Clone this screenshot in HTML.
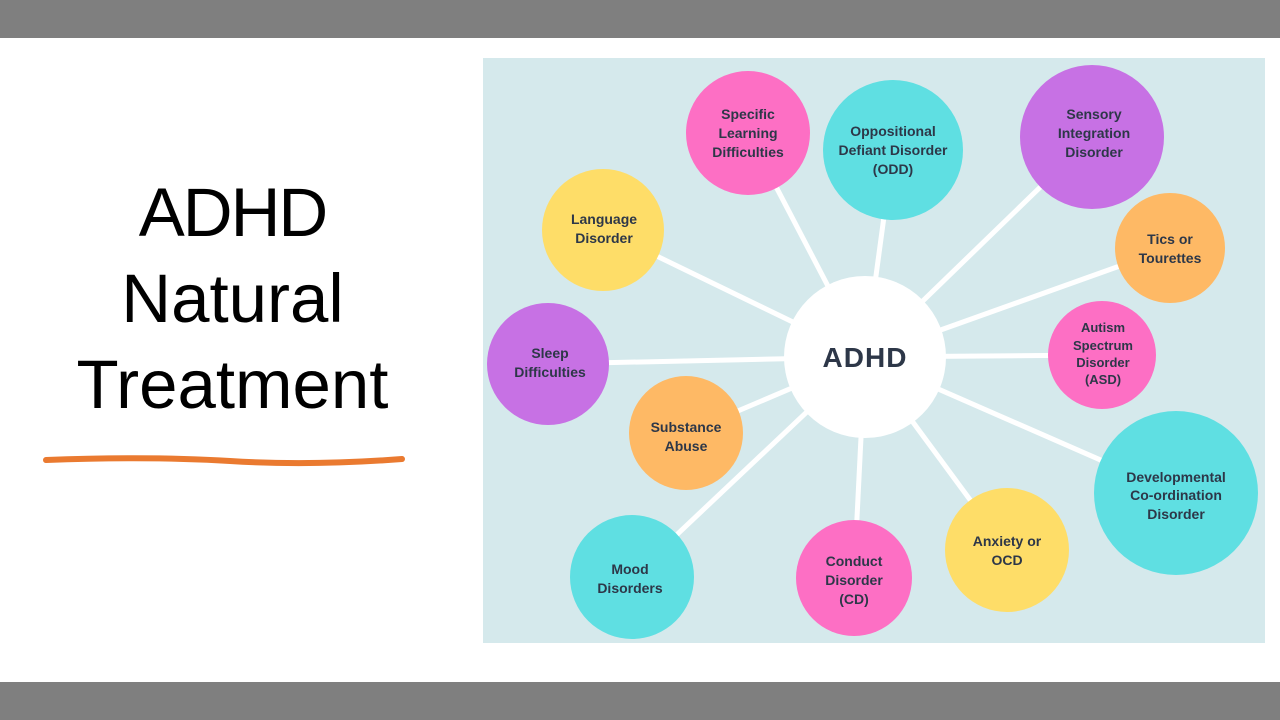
<!DOCTYPE html>
<html><head><meta charset="utf-8"><style>
html,body{margin:0;padding:0}
body{width:1280px;height:720px;position:relative;background:#fff;overflow:hidden;font-family:"Liberation Sans",sans-serif}
.bar{position:absolute;left:0;width:1280px;height:38px;background:#7f7f7f}
.t{position:absolute;left:20px;width:425px;text-align:center;font-size:69px;color:#000;line-height:86px;top:170px}
</style></head><body>
<div class="bar" style="top:0"></div>
<div class="bar" style="top:682px"></div>
<div class="t"><span style="letter-spacing:-2px">ADHD</span><br>Natural<br>Treatment</div>
<svg style="position:absolute;left:0;top:0" width="1280" height="720">
<path d="M46 460 Q150 456 230 461 T402 459" stroke="#ea7a30" stroke-width="6" fill="none" stroke-linecap="round"/>
<rect x="483" y="58" width="782" height="585" fill="#d5e9ec"/>
<g stroke="#fff" stroke-width="5">
<line x1="865" y1="357" x2="748" y2="133"/><line x1="865" y1="357" x2="893" y2="150"/>
<line x1="865" y1="357" x2="1092" y2="137"/><line x1="865" y1="357" x2="603" y2="230"/>
<line x1="865" y1="357" x2="1170" y2="248"/><line x1="865" y1="357" x2="1102" y2="355"/>
<line x1="865" y1="357" x2="548" y2="364"/><line x1="865" y1="357" x2="686" y2="433"/>
<line x1="865" y1="357" x2="1176" y2="493"/><line x1="865" y1="357" x2="1007" y2="550"/>
<line x1="865" y1="357" x2="854" y2="578"/><line x1="865" y1="357" x2="632" y2="577"/>
</g>
<g>
<circle cx="748" cy="133" r="62" fill="#fd6fc4"/>
<circle cx="893" cy="150" r="70" fill="#5fdfe2"/>
<circle cx="1092" cy="137" r="72" fill="#c771e4"/>
<circle cx="603" cy="230" r="61" fill="#fedd68"/>
<circle cx="1170" cy="248" r="55" fill="#feb965"/>
<circle cx="1102" cy="355" r="54" fill="#fd6fc4"/>
<circle cx="548" cy="364" r="61" fill="#c771e4"/>
<circle cx="686" cy="433" r="57" fill="#feb965"/>
<circle cx="1176" cy="493" r="82" fill="#5fdfe2"/>
<circle cx="1007" cy="550" r="62" fill="#fedd68"/>
<circle cx="854" cy="578" r="58" fill="#fd6fc4"/>
<circle cx="632" cy="577" r="62" fill="#5fdfe2"/>
<circle cx="865" cy="357" r="81" fill="#fff"/>
</g>
<g font-family="Liberation Sans,sans-serif" font-weight="bold" font-size="14" fill="#2d3748" text-anchor="middle">
<text x="748" y="119">Specific</text><text x="748" y="138">Learning</text><text x="748" y="157">Difficulties</text>
<text x="893" y="136">Oppositional</text><text x="893" y="155">Defiant Disorder</text><text x="893" y="174">(ODD)</text>
<text x="1094" y="119">Sensory</text><text x="1094" y="138">Integration</text><text x="1094" y="157">Disorder</text>
<text x="604" y="224">Language</text><text x="604" y="243">Disorder</text>
<text x="1170" y="244">Tics or</text><text x="1170" y="263">Tourettes</text>
<text x="550" y="358">Sleep</text><text x="550" y="377">Difficulties</text>
<text x="686" y="432">Substance</text><text x="686" y="451">Abuse</text>
<text x="1176" y="482">Developmental</text><text x="1176" y="500">Co-ordination</text><text x="1176" y="519">Disorder</text>
<text x="1007" y="546">Anxiety or</text><text x="1007" y="565">OCD</text>
<text x="854" y="566">Conduct</text><text x="854" y="585">Disorder</text><text x="854" y="604">(CD)</text>
<text x="630" y="574">Mood</text><text x="630" y="593">Disorders</text>
<g font-size="13"><text x="1103" y="332">Autism</text><text x="1103" y="350">Spectrum</text><text x="1103" y="367">Disorder</text><text x="1103" y="384">(ASD)</text></g>
<text x="865" y="367" font-size="28" font-weight="bold" fill="#2d3748" style="letter-spacing:1px">ADHD</text>
</g>
</svg>
</body></html>
